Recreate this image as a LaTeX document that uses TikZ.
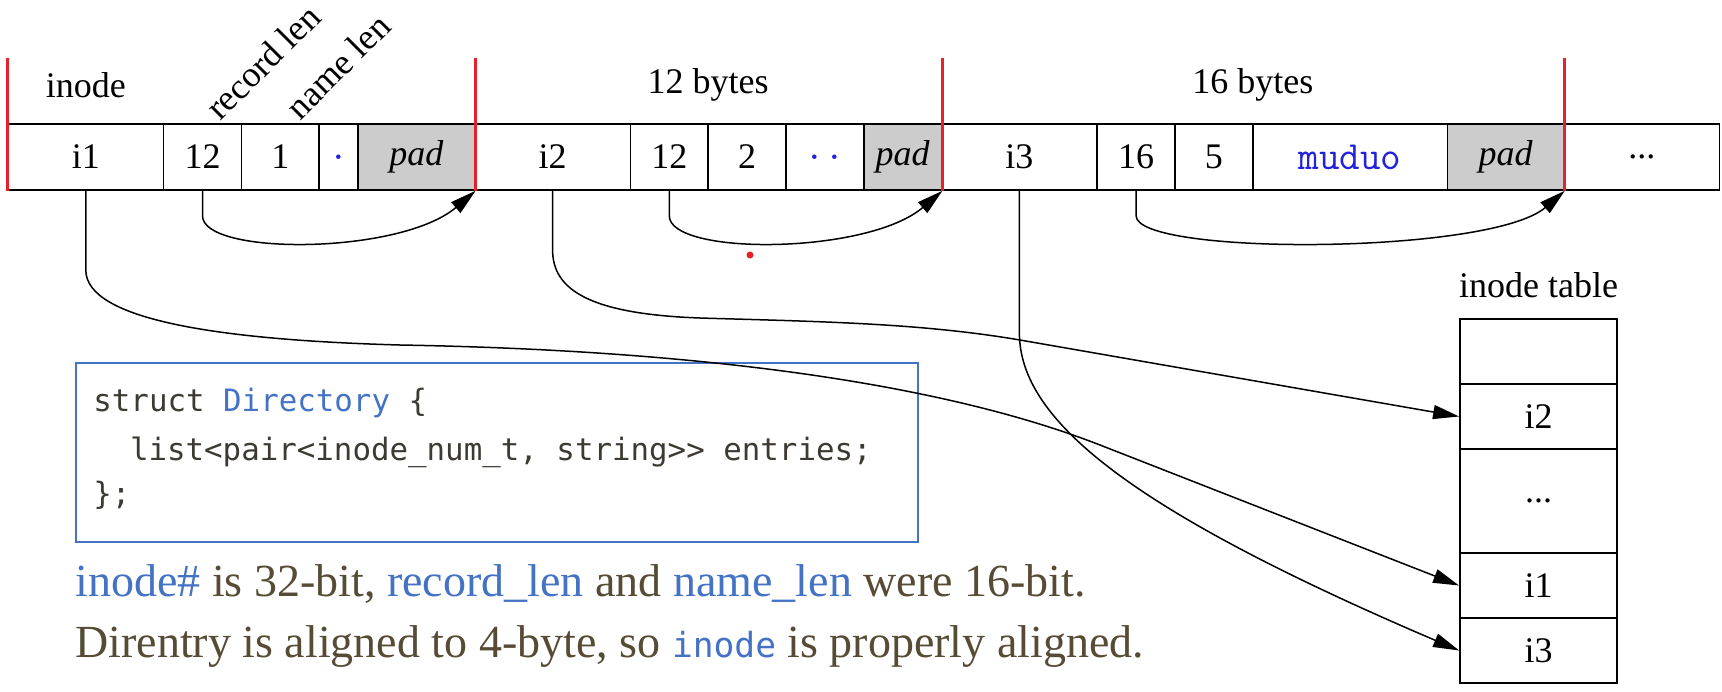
\documentclass[tikz,border=0pt]{standalone}
\usepackage{fontspec}
\setmainfont{Liberation Serif}
\newfontfamily\codefont{DejaVu Sans Mono}
\usetikzlibrary{arrows.meta}
\definecolor{redline}{HTML}{E8202A}
\definecolor{padgray}{HTML}{CCCCCC}
\definecolor{offblue}{HTML}{4472C4}
\definecolor{txtbrown}{HTML}{564B35}
\definecolor{codegray}{HTML}{3D3A33}
\definecolor{muduoblue}{HTML}{2222DD}
\begin{document}
\begin{tikzpicture}[x=0.5pt,y=-0.5pt,
  cell/.style={draw=black, line width=0.8pt, minimum height=33pt, inner sep=0pt, font=\fontsize{18}{21}\selectfont},
  padcell/.style={cell, fill=padgray, font=\fontsize{18}{21}\selectfont\itshape},
  tcell/.style={draw=black, line width=0.9pt, minimum width=78.5pt, inner sep=0pt, font=\fontsize{18}{21}\selectfont},
  lbl/.style={font=\fontsize{18}{21}\selectfont, inner sep=0pt},
  blutt/.style={text=muduoblue, font=\ttfamily\fontsize{20}{22}\selectfont},
  sep/.style={draw=redline, line width=1.6pt},
  link/.style={draw=black, line width=0.75pt, -{Triangle[length=13pt,width=7pt]}},
  codeline/.style={anchor=base west, inner sep=0pt, text=codegray, font=\codefont\fontsize{15.4}{18}\selectfont},
  noteline/.style={anchor=base west, inner sep=0pt, text=txtbrown, font=\fontsize{23}{27}\selectfont},
]
\useasboundingbox (0,0) rectangle (1722,691);

% code box (drawn first, connectors pass over it)
\node[draw=offblue, line width=0.8pt, minimum width=421pt, minimum height=89.5pt, anchor=north west, inner sep=0pt] (code) at (75,362) {};
\node[codeline] (c1) at (93,411) {struct \textcolor{offblue}{Directory} \{};
\node[codeline] (c2) at (129.6,460) {list<pair<inode\_num\_t, string>{}> entries;};
\node[codeline] (c3) at (93,504) {\};};

% entry 1
\node[cell, minimum width=77.8pt] (i1) at (85.8,157) {i1};
\node[cell, minimum width=38.9pt] (ra) at (202.5,157) {12};
\node[cell, minimum width=38.9pt] (na) at (280.3,157) {1};
\node[cell, minimum width=19.45pt, blutt] (da) at (338.65,157) {.};
\node[padcell, minimum width=58.35pt] (pa) at (416.45,157) {pad};
% entry 2
\node[cell, minimum width=77.8pt] (i2) at (552.6,157) {i2};
\node[cell, minimum width=38.9pt] (rb) at (669.3,157) {12};
\node[cell, minimum width=38.9pt] (nb) at (747.1,157) {2};
\node[cell, minimum width=38.9pt, blutt] (db) at (824.9,157) {..};
\node[padcell, minimum width=38.9pt] (pb) at (902.7,157) {pad};
% entry 3
\node[cell, minimum width=77.8pt] (i3) at (1019.4,157) {i3};
\node[cell, minimum width=38.9pt] (rc) at (1136.1,157) {16};
\node[cell, minimum width=38.9pt] (nc) at (1213.9,157) {5};
\node[cell, minimum width=97.25pt, blutt] (mc) at (1350.05,157) {muduo};
\node[padcell, minimum width=58.35pt] (pc) at (1505.65,157) {pad};
\node[cell, minimum width=77.8pt] (more) at (1641.8,157) {...};

% red separators
\draw[sep] (i1.south west) -- ++(0,-133);
\draw[sep] (pa.south east) -- ++(0,-133);
\draw[sep] (pb.south east) -- ++(0,-133);
\draw[sep] (pc.south east) -- ++(0,-133);

% labels
\node[lbl] (lblinode) at (85.8,85) {inode};
\node[lbl] (lbl12) at (708,85) {12 bytes};
\node[lbl] (lbl16) at (1252.8,85) {16 bytes};
\node[lbl, rotate=45] (lblrec) at (263,62) {record len};
\node[lbl, rotate=45] (lblname) at (338,66) {name len};

% inode table
\node[lbl] (ttitle) at (1538.5,285) {inode table};
\node[tcell, minimum height=32.5pt] (t0) at (1538.5,351.5) {};
\node[tcell, minimum height=32.5pt] (t1) at (1538.5,416.5) {i2};
\node[tcell, minimum height=52pt] (t2) at (1538.5,501) {...};
\node[tcell, minimum height=32.5pt] (t3) at (1538.5,585.5) {i1};
\node[tcell, minimum height=32.5pt] (t4) at (1538.5,650.5) {i3};

% record-length arrows
\draw[link] (ra.south) -- ++(0,25) .. controls +(0,40) and (400,255) .. (pa.south east);
\draw[link] (rb.south) -- ++(0,25) .. controls +(0,40) and (867,255) .. (pb.south east);
\draw[link] (rc.south) -- ++(0,25) .. controls +(0,40) and (1490,255) .. (pc.south east);

% inode arrows
\draw[link] (i1.south) -- (85.8,270) .. controls (85.8,320) and (220,340) .. (400,345)
  .. controls (800,352) and (1000,406) .. (1100,445) -- (t3.west);
\draw[link] (i2.south) -- (552.6,250) .. controls (552.6,290) and (590,314) .. (700,318)
  .. controls (820,321.6) and (920,323) .. (1020,340) -- (t1.west);
\draw[link] (i3.south) -- (1019.4,333) .. controls (1019.4,420) and (1130,510) .. (t4.west);

% red pointer dot
\node[circle, fill=redline, minimum size=3.5pt, inner sep=0pt] (pointer) at (750,255) {};

% notes
\node[noteline] (n1) at (75,596) {\textcolor{offblue}{inode\#} is 32-bit, \textcolor{offblue}{record\_len} and \textcolor{offblue}{name\_len} were 16-bit.};
\node[noteline] (n2) at (75,657) {Direntry is aligned to 4-byte, so \textcolor{offblue}{\codefont\fontsize{17.3}{20}\selectfont inode} is properly aligned.};
\end{tikzpicture}
\end{document}
